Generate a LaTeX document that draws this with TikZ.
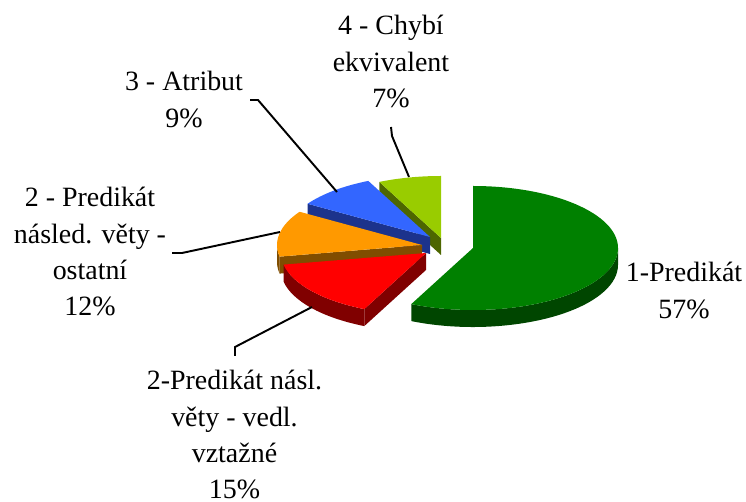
\documentclass[tikz,border=0pt]{standalone}
\usepackage{fontspec}
\setmainfont{Liberation Serif}
\usepackage{xcolor}
\definecolor{gtop}{RGB}{0,128,0}
\definecolor{gside}{RGB}{0,70,0}
\definecolor{rtop}{RGB}{255,0,0}
\definecolor{rside}{RGB}{128,0,0}
\definecolor{otop}{RGB}{255,153,0}
\definecolor{oside}{RGB}{128,77,0}
\definecolor{btop}{RGB}{51,102,255}
\definecolor{bside}{RGB}{28,51,140}
\definecolor{ytop}{RGB}{153,204,0}
\definecolor{yside}{RGB}{77,102,0}
\tikzset{
    pielabel/.style={
        align=center,
        inner sep=0pt,
        anchor=north,
        font=\fontsize{15.9}{20.7}\selectfont
    },
    leader/.style={
        draw,
        line width=1.1pt
    }
}

\begin{document}
\begin{tikzpicture}[x=0.02cm, y=-0.02cm]
    \useasboundingbox (0,0) rectangle (746,502);
    % Slice centres
    \coordinate (c1) at (473,248);
    \coordinate (c2) at (426,253);
    \coordinate (c3) at (422,245);
    \coordinate (c4) at (430,237);
    \coordinate (c5) at (441,238);

    % Slice 5 - Chybi ekvivalent
    \fill[yside] (c5) -- ++(244.8:145 and 62) -- ++(0,17) -- ++(64.8:145 and 62) -- cycle;
    \fill[ytop] (c5) -- ++(244.8:145 and 62) arc[start angle=244.8, end angle=270, x radius=145, y radius=62] -- cycle;

    % Slice 4 - Atribut
    \fill[bside] (c4) -- ++(212.4:145 and 62) -- ++(0,17) -- ++(32.4:145 and 62) -- cycle;
    \fill[btop] (c4) -- ++(212.4:145 and 62) arc[start angle=212.4, end angle=244.8, x radius=145, y radius=62] -- cycle;

    % Slice 3 - ostatni
    \fill[oside] (c3) -- ++(169.2:145 and 62) -- ++(0,17) -- ++(349.2:145 and 62) -- cycle;
    \fill[oside] (c3) ++(169.2:145 and 62) arc[start angle=169.2, end angle=180, x radius=145, y radius=62]
        -- ++(0,17) arc[start angle=180, end angle=169.2, x radius=145, y radius=62] -- cycle;
    \fill[otop] (c3) -- ++(169.2:145 and 62) arc[start angle=169.2, end angle=212.4, x radius=145, y radius=62] -- cycle;

    % Slice 2 - vedl. vztazne
    \fill[rside] (c2) -- ++(115.2:145 and 62) -- ++(0,17) -- ++(295.2:145 and 62) -- cycle;
    \fill[rside] (c2) ++(115.2:145 and 62) arc[start angle=115.2, end angle=169.2, x radius=145, y radius=62]
        -- ++(0,17) arc[start angle=169.2, end angle=115.2, x radius=145, y radius=62] -- cycle;
    \fill[rtop] (c2) -- ++(115.2:145 and 62) arc[start angle=115.2, end angle=169.2, x radius=145, y radius=62] -- cycle;

    % Slice 1 - Predikat
    \fill[gside] (c1) ++(0:145 and 62) arc[start angle=0, end angle=115.2, x radius=145, y radius=62]
        -- ++(0,17) arc[start angle=115.2, end angle=0, x radius=145, y radius=62] -- cycle;
    \fill[gtop] (c1) -- ++(-90:145 and 62) arc[start angle=-90, end angle=115.2, x radius=145, y radius=62] -- cycle;

    % Labels
    \node[pielabel] (lbl1) at (684,262) {1-Predikát\\57\%};
    \node[pielabel] (lbl2) at (234.5,370) {2-Predikát násl.\\věty - vedl.\\vztažné\\15\%};
    \node[pielabel] (lbl3) at (90,187) {2 - Predikát\\násled. věty -\\ostatní\\12\%};
    \node[pielabel] (lbl4) at (184,71) {3 - Atribut\\9\%};
    \node[pielabel] (lbl5) at (391,15) {4 - Chybí\\ekvivalent\\7\%};

    % Leader lines
    \coordinate (l2a) at (235,356);
    \coordinate (l2b) at (235,347);
    \coordinate (l2c) at (312,307);
    \coordinate (l3a) at (172,253);
    \coordinate (l3b) at (182,253);
    \coordinate (l3c) at (280,232);
    \coordinate (l4a) at (250,100);
    \coordinate (l4b) at (258,100);
    \coordinate (l4c) at (337,192);
    \coordinate (l5a) at (391,127);
    \coordinate (l5b) at (392,136);
    \coordinate (l5c) at (409,177);
    \draw[leader] (l2a) -- (l2b) -- (l2c);
    \draw[leader] (l3a) -- (l3b) -- (l3c);
    \draw[leader] (l4a) -- (l4b) -- (l4c);
    \draw[leader] (l5a) -- (l5b) -- (l5c);
\end{tikzpicture}
\end{document}
